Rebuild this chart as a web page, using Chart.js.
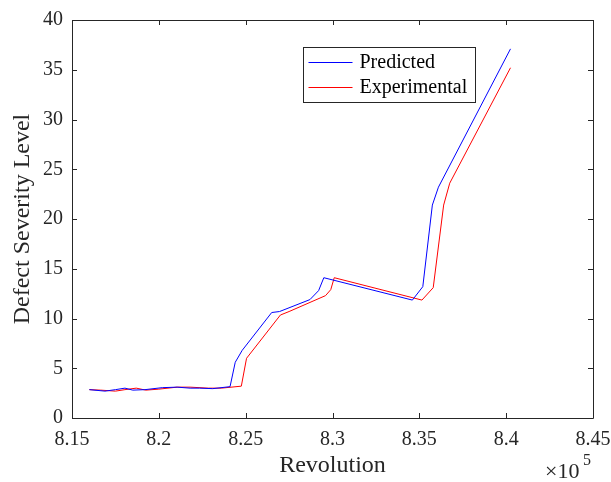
<!DOCTYPE html>
<html>
<head>
<meta charset="utf-8">
<script src="https://cdn.jsdelivr.net/npm/chart.js@4.4.1/dist/chart.umd.min.js"></script>
<style>
  html, body { margin: 0; padding: 0; background: #fff; }
  #wrap { width: 611px; height: 482px; }
</style>
</head>
<body>
<div id="wrap"><canvas id="severityChart"></canvas></div>
<script>
// revolutions and severity
var predRev = [816000, 816900, 817500, 818050, 818500, 819200, 820200, 821050, 821800, 822350, 823100, 824100,
               824400, 824800, 826500, 826950, 828700, 829200, 829500, 834600, 835200, 835750, 836100, 840250];
var predVal = [2.85, 2.7, 2.85, 3.0, 2.8, 2.85, 3.05, 3.1, 3.0, 3.0, 2.95, 3.15,
               5.6, 6.8, 10.6, 10.7, 11.9, 12.8, 14.1, 11.85, 13.2, 21.4, 23.2, 37.1];

var expRev = [816000, 816650, 817500, 818050, 818700, 819250, 820000, 821050, 821800, 822850, 823600, 824750,
              825050, 827000, 827500, 829600, 829900, 830100, 835150, 835800, 836400, 836750, 840250];
var expVal = [2.85, 2.8, 2.7, 2.85, 3.0, 2.8, 2.9, 3.1, 3.1, 3.0, 3.0, 3.2,
              6.0, 10.35, 10.7, 12.3, 12.9, 14.1, 11.85, 13.1, 21.4, 23.6, 35.2];

var seriesNames = ['Predicted', 'Experimental'];
var seriesColors = ['#0000ff', '#ff0000'];

var xMin = 815000, xMax = 845000, xStep = 5000;
var yMin = 0, yMax = 40, yStep = 5;

function toPoints(xs, ys) {
    var pts = [];
    for (var i = 0; i < xs.length; i++) {
        pts.push({x: xs[i], y: ys[i]});
    }
    return pts;
}

var serif = "'Liberation Serif', 'Times New Roman', serif";

// matlab style box, inward ticks, legend and exponent
var matlabAxes = {
    id: 'matlabAxes',
    afterDraw: function(chart) {
        var ctx = chart.ctx;
        var a = chart.chartArea;
        var xs = chart.scales.x, ys = chart.scales.y;
        var tl = 5;
        ctx.save();
        ctx.strokeStyle = '#262626';
        ctx.lineWidth = 1;
        ctx.beginPath();
        ctx.rect(Math.round(a.left) + 0.5, Math.round(a.top) + 0.5,
                 Math.round(a.right - a.left), Math.round(a.bottom - a.top));
        for (var v = xMin; v <= xMax; v += xStep) {
            var px = Math.round(xs.getPixelForValue(v)) + 0.5;
            ctx.moveTo(px, a.bottom); ctx.lineTo(px, a.bottom - tl);
            ctx.moveTo(px, a.top); ctx.lineTo(px, a.top + tl);
        }
        for (var w = yMin; w <= yMax; w += yStep) {
            var py = Math.round(ys.getPixelForValue(w)) + 0.5;
            ctx.moveTo(a.left, py); ctx.lineTo(a.left + tl, py);
            ctx.moveTo(a.right, py); ctx.lineTo(a.right - tl, py);
        }
        ctx.stroke();

        // legend box
        var lx = 303.5, ly = 47.5, lw = 172, lh = 55;
        ctx.fillStyle = '#fff';
        ctx.fillRect(lx, ly, lw, lh);
        ctx.strokeStyle = '#262626';
        ctx.strokeRect(lx, ly, lw, lh);
        ctx.font = '20px ' + serif;
        ctx.textBaseline = 'middle';
        ctx.textAlign = 'left';
        for (var i = 0; i < seriesNames.length; i++) {
            var rowY = ly + 15 + i * 25;
            ctx.strokeStyle = seriesColors[i];
            ctx.beginPath();
            ctx.moveTo(lx + 5, rowY); ctx.lineTo(lx + 49, rowY);
            ctx.stroke();
            ctx.fillStyle = '#000';
            ctx.fillText(seriesNames[i], lx + 56, rowY);
        }

        // x10^5
        ctx.fillStyle = '#262626';
        ctx.font = '22px ' + serif;
        ctx.textBaseline = 'alphabetic';
        ctx.fillText('\u00d710', 545, 478);
        ctx.font = '16px ' + serif;
        ctx.fillText('5', 583, 465);
        ctx.restore();
    }
};

var chart = new Chart(document.getElementById('severityChart'), {
    type: 'scatter',
    data: {
        datasets: [{
            label: seriesNames[0],
            data: toPoints(predRev, predVal),
            showLine: true,
            borderColor: seriesColors[0],
            borderWidth: 1,
            pointRadius: 0,
            tension: 0
        }, {
            label: seriesNames[1],
            data: toPoints(expRev, expVal),
            showLine: true,
            borderColor: seriesColors[1],
            borderWidth: 1,
            pointRadius: 0,
            tension: 0
        }]
    },
    options: {
        responsive: true,
        maintainAspectRatio: false,
        animation: false,
        layout: { padding: { top: 20, right: 18, left: 0, bottom: 0 } },
        plugins: {
            legend: { display: false },
            tooltip: { enabled: false }
        },
        scales: {
            x: {
                type: 'linear',
                min: xMin, max: xMax,
                grid: { display: false, drawTicks: false },
                border: { display: false },
                ticks: {
                    stepSize: xStep,
                    padding: 10,
                    color: '#262626',
                    font: { family: serif, size: 20 },
                    maxRotation: 0,
                    callback: function(v) { return Number((v / 1e5).toFixed(2)).toString(); }
                },
                title: {
                    display: true,
                    text: 'Revolution',
                    color: '#262626',
                    font: { family: serif, size: 24 },
                    padding: { top: 0, bottom: 2 }
                },
                afterFit: function(s) { s.height = 64; s.paddingLeft = 0; s.paddingRight = 0; }
            },
            y: {
                min: yMin, max: yMax,
                grid: { display: false, drawTicks: false },
                border: { display: false },
                ticks: {
                    stepSize: yStep,
                    padding: 9,
                    color: '#262626',
                    font: { family: serif, size: 20 }
                },
                title: {
                    display: true,
                    text: 'Defect Severity Level',
                    color: '#262626',
                    font: { family: serif, size: 24 },
                    padding: { top: 8, bottom: 0 }
                },
                afterFit: function(s) { s.width = 72; s.paddingTop = 0; s.paddingBottom = 0; }
            }
        }
    },
    plugins: [matlabAxes]
});
</script>
</body>
</html>
